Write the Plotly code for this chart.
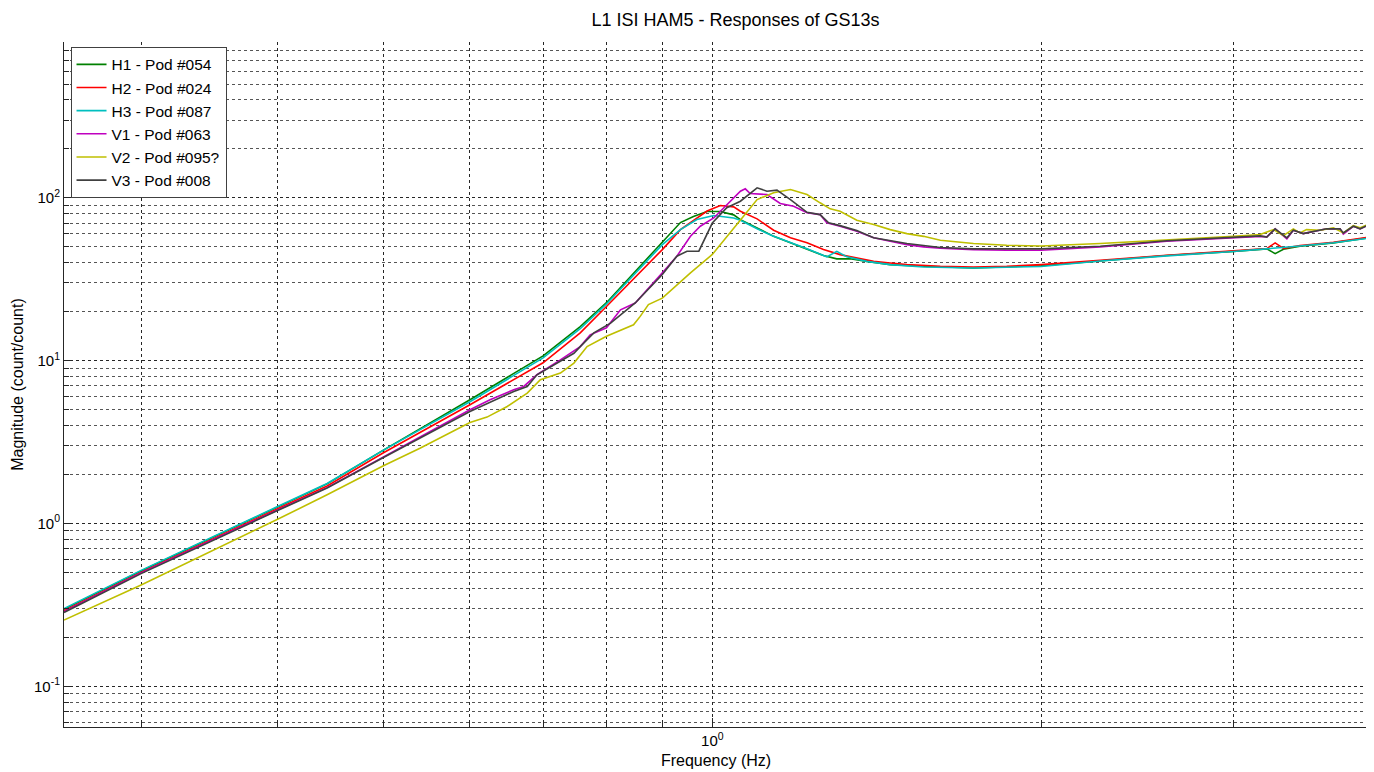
import math
import plotly.graph_objects as go

title = "L1 ISI HAM5 - Responses of GS13s"
x_title = "Frequency (Hz)"
y_title = "Magnitude (count/count)"
names = ["H1 - Pod #054", "H2 - Pod #024", "H3 - Pod #087",
         "V1 - Pod #063", "V2 - Pod #095?", "V3 - Pod #008"]
colors = ["#008000", "#ff0000", "#00bfbf", "#bf00bf", "#bfbf00", "#404040"]

# H1 - Pod #054
h1_f = [0.255, 0.3, 0.4, 0.444, 0.5, 0.6, 0.7, 0.757, 0.8, 0.9, 0.935, 0.961, 0.989,
        1.017, 1.046, 1.061, 1.099, 1.138, 1.179, 1.221, 1.264, 1.300, 1.337, 1.385,
        1.455, 1.561, 1.734, 2.0, 2.265, 2.606, 3.0, 3.218, 3.275, 3.333, 3.451, 3.703, 3.983]
h1_m = [0.297, 0.51, 1.26, 1.75, 2.82, 5.75, 10.7, 16.2, 22.7, 53.8, 70.5, 76.7, 82.4,
        82.4, 78.6, 73.5, 65.4, 58.0, 52.9, 48.6, 44.2, 42.2, 42.2, 40.7,
        38.9, 37.96, 37.1, 38.3, 41.0, 44.2, 46.9, 48.6, 45.4, 48.3, 50.4, 52.9, 56.8]

# H2 - Pod #024
h2_f = [0.255, 0.3, 0.4, 0.444, 0.5, 0.6, 0.7, 0.757, 0.8, 0.9, 0.935, 0.989, 1.017,
        1.046, 1.061, 1.099, 1.138, 1.179, 1.221, 1.264, 1.309, 1.356, 1.405, 1.455,
        1.507, 1.617, 1.734, 1.860, 2.0, 2.265, 2.606, 3.0, 3.218, 3.275, 3.333, 3.451,
        3.703, 3.983]
h2_m = [0.29, 0.50, 1.23, 1.70, 2.72, 5.36, 9.7, 14.8, 21.5, 48.1, 63.8, 83.0, 89.7,
        88.0, 82.7, 74.3, 63.2, 56.8, 52.9, 48.1, 44.8, 42.8, 40.7, 39.8,
        38.9, 37.96, 37.6, 37.96, 38.9, 41.3, 44.4, 47.2, 48.8, 52.9, 48.9, 50.9,
        53.3, 57.2]

# H3 - Pod #087
h3_f = [0.255, 0.3, 0.4, 0.444, 0.5, 0.6, 0.7, 0.757, 0.8, 0.9, 0.935, 0.968, 1.003,
        1.046, 1.061, 1.099, 1.138, 1.179, 1.221, 1.273, 1.300, 1.328, 1.385, 1.455,
        1.561, 1.734, 2.0, 2.265, 2.606, 3.0, 3.218, 3.451, 3.703, 3.983]
h3_m = [0.30, 0.515, 1.27, 1.76, 2.82, 5.59, 10.4, 15.7, 22.3, 51.6, 63.8, 73.6, 77.8,
        75.2, 72.8, 64.5, 58.0, 53.3, 48.6, 43.4, 46.9, 43.4, 40.7, 38.9,
        37.6, 37.1, 37.9, 40.9, 44.0, 46.8, 48.5, 50.6, 53.0, 56.5]

# V1 - Pod #063
v1_f = [0.255, 0.3, 0.4, 0.444, 0.5, 0.6, 0.626, 0.658, 0.672, 0.691, 0.726, 0.757,
        0.773, 0.8, 0.824, 0.850, 0.9, 0.928, 0.955, 0.975, 1.003, 1.031, 1.061, 1.072,
        1.083, 1.122, 1.154, 1.187, 1.221, 1.255, 1.273, 1.309, 1.356, 1.405, 1.455,
        1.507, 1.561, 1.617, 1.734, 1.860, 2.0, 2.265, 2.606, 3.0, 3.173, 3.218, 3.275,
        3.357, 3.403, 3.475, 3.549, 3.651, 3.755, 3.781, 3.862, 3.917, 3.983]
v1_m = [0.287, 0.497, 1.21, 1.66, 2.56, 4.99, 5.75, 6.62, 6.94, 8.19, 10.1, 12.2,
        14.4, 15.9, 20.5, 22.6, 34.6, 43.8, 58.1, 66.9, 75.2, 91.0, 109.8, 113.6,
        106.3, 104.8, 92.3, 88.8, 80.9, 78.9, 70.2, 66.9, 62.3, 56.8, 54.1,
        51.6, 49.96, 49.0, 48.1, 47.6, 47.6, 49.96, 54.1, 57.2, 58.0, 57.6, 64.5,
        56.0, 63.2, 60.3, 62.3, 64.5, 64.5, 59.9, 66.9, 64.5, 68.0]

# V2 - Pod #095?
v2_f = [0.255, 0.3, 0.4, 0.444, 0.5, 0.54, 0.6, 0.622, 0.649, 0.677, 0.696, 0.726,
        0.747, 0.768, 0.8, 0.847, 0.859, 0.874, 0.9, 0.955, 1.0, 1.031, 1.068, 1.099,
        1.138, 1.179, 1.221, 1.255, 1.282, 1.309, 1.356, 1.405, 1.455, 1.507, 1.561,
        1.617, 1.734, 1.860, 2.0, 2.265, 2.606, 3.0, 3.173, 3.264, 3.333, 3.403, 3.451,
        3.499, 3.600, 3.703, 3.781, 3.862, 3.917, 3.983]
v2_m = [0.255, 0.419, 1.06, 1.50, 2.26, 2.90, 4.17, 4.50, 5.23, 6.32, 7.63, 8.39,
        9.66, 12.2, 14.1, 16.6, 18.7, 22.1, 24.2, 34.6, 44.9, 58.1, 77.0, 97.6,
        107.4, 112.5, 104.8, 93.2, 85.6, 82.7, 72.8, 68.5, 63.8, 60.3, 58.0,
        54.9, 52.4, 51.1, 50.6, 52.4, 54.9, 58.0, 59.5, 63.8, 58.6, 64.5, 60.9,
        63.8, 63.2, 65.4, 60.9, 67.5, 65.4, 68.5]

# V3 - Pod #008
v3_f = [0.255, 0.3, 0.4, 0.444, 0.5, 0.6, 0.658, 0.677, 0.691, 0.726, 0.747, 0.757,
        0.779, 0.807, 0.850, 0.9, 0.928, 0.948, 0.972, 1.0, 1.031, 1.061, 1.076, 1.099,
        1.122, 1.146, 1.179, 1.221, 1.255, 1.278, 1.309, 1.356, 1.405, 1.507, 1.617,
        1.734, 2.0, 2.265, 2.606, 3.0, 3.173, 3.218, 3.275, 3.357, 3.403, 3.475, 3.549,
        3.651, 3.755, 3.781, 3.862, 3.917, 3.983]
v3_m = [0.284, 0.492, 1.20, 1.65, 2.54, 4.87, 6.46, 6.94, 8.19, 9.89, 11.1, 12.2,
        14.8, 17.0, 22.6, 33.8, 43.8, 47.0, 47.0, 70.0, 87.0, 95.3, 103.3, 115.2,
        109.8, 111.4, 97.6, 81.5, 78.9, 70.2, 67.5, 62.9, 56.8, 52.4, 49.5,
        48.6, 48.6, 50.4, 54.5, 57.6, 58.4, 57.4, 64.5, 56.8, 63.2, 60.3, 62.3,
        64.5, 64.5, 60.9, 66.9, 64.5, 68.0]

x_range = [0.255, 3.983]
y_range = [0.0562, 906]
x_major = [1]
x_major_text = ["10<sup>0</sup>"]
x_minor = [0.3, 0.4, 0.5, 0.6, 0.7, 0.8, 0.9, 2, 3]
y_major = [0.1, 1, 10, 100]
y_major_text = ["10<sup>-1</sup>", "10<sup>0</sup>", "10<sup>1</sup>", "10<sup>2</sup>"]
y_minor = [0.06, 0.07, 0.08, 0.09, 0.2, 0.3, 0.4, 0.5, 0.6, 0.7, 0.8, 0.9,
           2, 3, 4, 5, 6, 7, 8, 9, 20, 30, 40, 50, 60, 70, 80, 90,
           200, 300, 400, 500, 600, 700, 800, 900]

series_f = [h1_f, h2_f, h3_f, v1_f, v2_f, v3_f]
series_m = [h1_m, h2_m, h3_m, v1_m, v2_m, v3_m]

FONT = "Arial, Liberation Sans, Helvetica, sans-serif"

fig = go.Figure()
for name, col, fx, my in zip(names, colors, series_f, series_m):
    fig.add_trace(go.Scatter(x=fx, y=my, mode="lines", name=name,
                             line=dict(color=col, width=1.6)))

grid_col = "#262626"
axis_common = dict(
    type="log", showline=True, linecolor="#262626", linewidth=1, mirror=False,
    ticks="inside", ticklen=9, tickcolor="#262626", tickwidth=1,
    showgrid=True, gridcolor=grid_col, griddash="dot", gridwidth=1,
    zeroline=False, tickmode="array", automargin=False,
    tickfont=dict(family=FONT, size=15, color="#000000"),
)

fig.update_xaxes(
    **axis_common,
    range=[math.log10(x_range[0]), math.log10(x_range[1])],
    tickvals=x_major, ticktext=x_major_text,
    minor=dict(tickmode="array", tickvals=x_minor, ticks="inside", ticklen=5,
               tickcolor="#262626", showgrid=True, gridcolor=grid_col,
               griddash="dot", gridwidth=1),
    title=dict(text=x_title, font=dict(family=FONT, size=16, color="#000000"), standoff=6),
)
fig.update_yaxes(
    **axis_common,
    range=[math.log10(y_range[0]), math.log10(y_range[1])],
    tickvals=y_major, ticktext=y_major_text,
    minor=dict(tickmode="array", tickvals=y_minor, ticks="inside", ticklen=5,
               tickcolor="#262626", showgrid=True, gridcolor="#555555",
               griddash="dot", gridwidth=1),
    title=dict(text=y_title, font=dict(family=FONT, size=16, color="#000000"), standoff=6),
)

# page body adds an 8px offset, so the figure is 8px smaller than the window
fig.update_layout(
    width=1366, height=764,
    margin=dict(l=56, r=6, t=34, b=45, autoexpand=False),
    paper_bgcolor="white", plot_bgcolor="white",
    font=dict(family=FONT, color="#000000"),
    title=dict(text=title, x=0.515, xref="paper", xanchor="center",
               y=1 - 12 / 764, yref="container", yanchor="middle",
               font=dict(family=FONT, size=18, color="#000000")),
    legend=dict(x=0.005, y=0.993, xanchor="left", yanchor="top",
                bgcolor="white", bordercolor="#404040", borderwidth=1,
                font=dict(family=FONT, size=15.5, color="#000000"),
                tracegroupgap=0, itemwidth=30),
    showlegend=True,
)

fig.write_html("out.html")
